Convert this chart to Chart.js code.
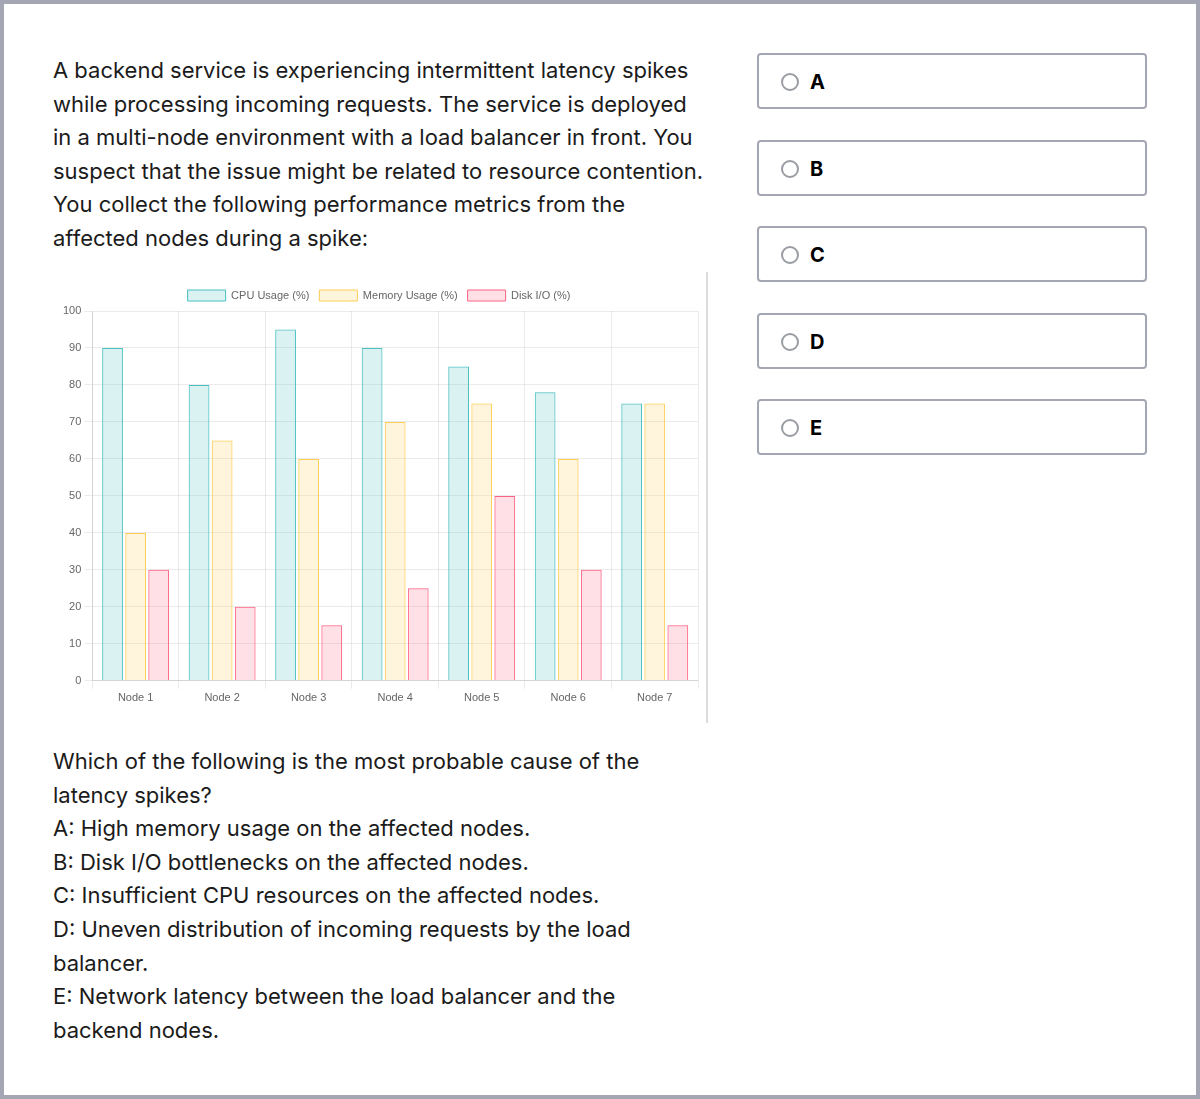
<!DOCTYPE html>
<html>
<head>
<meta charset="utf-8">
<script src="https://cdn.jsdelivr.net/npm/chart.js@4.4.0/dist/chart.umd.min.js"></script>
<style>
  html, body { margin: 0; padding: 0; background: #fff; }
  .frame { position: absolute; left: 0; top: 0; width: 1200px; height: 1099px; box-sizing: border-box; border: 4px solid #a4a7b3; background: #fff; }
  .txt { position: absolute; left: 53px; width: 680px; font-family: Inter, "Noto Sans", sans-serif; font-size: 22px; line-height: 33.6px; color: #1b1b1b; margin: 0; }
  #intro { top: 54px; }
  #question { top: 745px; }
  .chartbox { position: absolute; left: 53px; top: 272px; width: 653px; height: 451px; border-right: 2px solid #dcdcdc; }
  .opt { position: absolute; left: 757px; width: 386px; height: 52px; border: 2px solid #a4a7b3; border-radius: 4px; box-sizing: content-box; }
  .opt .radio { position: absolute; left: 22px; top: 18px; width: 14px; height: 14px; border: 2px solid #9a9ca4; border-radius: 50%; }
  .opt .lab { position: absolute; left: 51px; top: 15px; font-family: Inter, "Noto Sans", sans-serif; font-weight: 700; font-size: 20px; line-height: 24px; color: #000; }
</style>
</head>
<body>
<div class="frame"></div>
<p class="txt" id="intro">A backend service is experiencing intermittent latency spikes<br>while processing incoming requests. The service is deployed<br>in a multi-node environment with a load balancer in front. You<br>suspect that the issue might be related to resource contention.<br>You collect the following performance metrics from the<br>affected nodes during a spike:</p>
<div class="chartbox"><canvas id="c"></canvas></div>
<p class="txt" id="question">Which of the following is the most probable cause of the<br>latency spikes?<br>A: High memory usage on the affected nodes.<br>B: Disk I/O bottlenecks on the affected nodes.<br>C: Insufficient CPU resources on the affected nodes.<br>D: Uneven distribution of incoming requests by the load<br>balancer.<br>E: Network latency between the load balancer and the<br>backend nodes.</p>
<div class="opt" style="top:53px"><div class="radio"></div><div class="lab">A</div></div>
<div class="opt" style="top:139.5px"><div class="radio"></div><div class="lab">B</div></div>
<div class="opt" style="top:226px"><div class="radio"></div><div class="lab">C</div></div>
<div class="opt" style="top:312.5px"><div class="radio"></div><div class="lab">D</div></div>
<div class="opt" style="top:399px"><div class="radio"></div><div class="lab">E</div></div>
<script>
const categories = ["Node 1", "Node 2", "Node 3", "Node 4", "Node 5", "Node 6", "Node 7"];
const cpuUsage = [90, 80, 95, 90, 85, 78, 75];
const memoryUsage = [40, 65, 60, 70, 75, 60, 75];
const diskIO = [30, 20, 15, 25, 50, 30, 15];

Chart.defaults.font.family = '"Liberation Sans", Arial, Helvetica, sans-serif';
Chart.defaults.font.size = 11;
Chart.defaults.color = '#666';

new Chart(document.getElementById('c'), {
  type: 'bar',
  data: {
    labels: categories,
    datasets: [
      { label: 'CPU Usage (%)', data: cpuUsage, backgroundColor: 'rgba(75,192,192,0.2)', borderColor: 'rgba(75,192,192,1)', borderWidth: 1 },
      { label: 'Memory Usage (%)', data: memoryUsage, backgroundColor: 'rgba(255,206,86,0.2)', borderColor: 'rgba(255,206,86,1)', borderWidth: 1 },
      { label: 'Disk I/O (%)', data: diskIO, backgroundColor: 'rgba(255,99,132,0.2)', borderColor: 'rgba(255,99,132,1)', borderWidth: 1 }
    ]
  },
  options: {
    responsive: true,
    maintainAspectRatio: false,
    animation: false,
    layout: { padding: { top: 8, left: 7, right: 8, bottom: 15 } },
    plugins: {
      legend: { position: 'top', labels: { boxWidth: 38, boxHeight: 11, padding: 10 } },
      tooltip: { enabled: false }
    },
    scales: {
      x: { grid: { color: 'rgba(0,0,0,0.08)' } },
      y: { beginAtZero: true, max: 100, ticks: { stepSize: 10 }, grid: { color: 'rgba(0,0,0,0.08)' } }
    }
  }
});
</script>
</body>
</html>
